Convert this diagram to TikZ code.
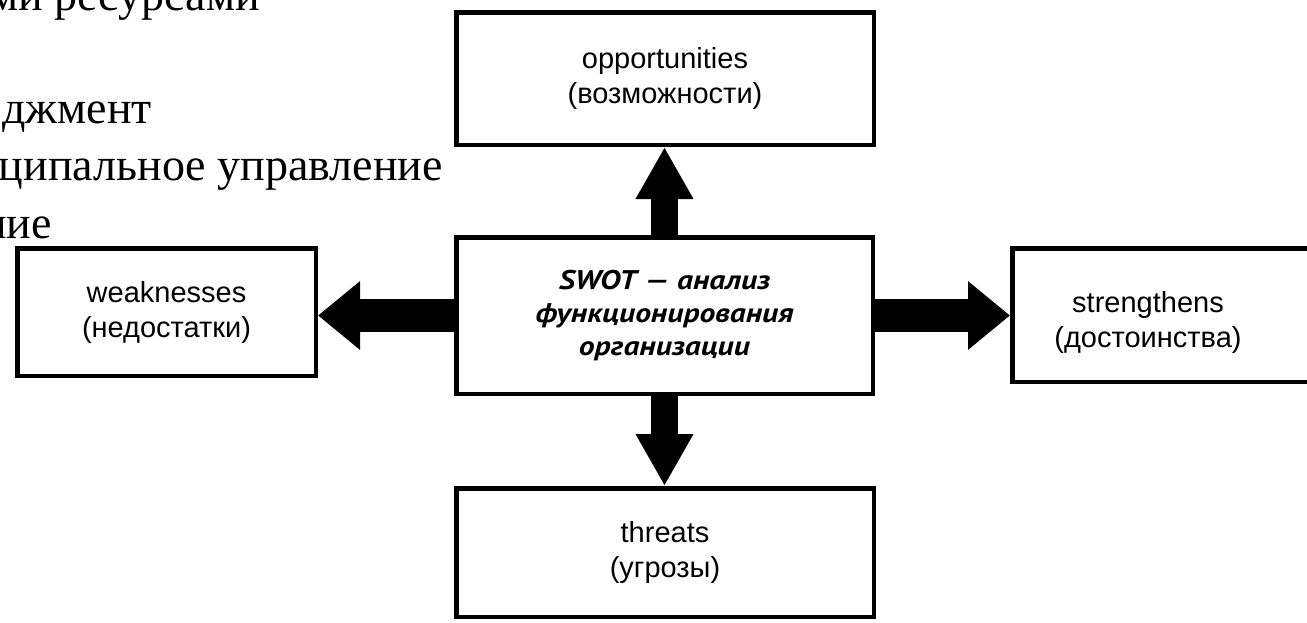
\documentclass[tikz,border=0pt]{standalone}
\usepackage{fontspec}
\setmainfont{Liberation Serif}
\newfontfamily\boxfont{Liberation Sans}
\newfontfamily\swotfont[FakeStretch=1.17]{PT Sans}
\usetikzlibrary{arrows.meta}
\newcommand\boxsize{\boxfont\fontsize{29}{35}\selectfont}
\newcommand\swotsize{\swotfont\bfseries\itshape\fontsize{27}{33}\selectfont}
\newcommand\bgsize{\fontsize{46}{57}\selectfont}
\begin{document}
\begin{tikzpicture}[x=1pt,y=-1pt,
  box/.style={draw, line width=4.5pt, inner sep=0pt, align=center, font=\boxsize},
  boxtext/.style={inner sep=0pt, align=center, font=\boxsize},
  bgtext/.style={inner sep=0pt, anchor=base east, font=\bgsize},
  varrow/.style={line width=27pt, -{Triangle[length=52pt,width=54pt]}},
  harrow/.style={line width=33pt, -{Triangle[length=42pt,width=66pt]}}]
\useasboundingbox (0,0) rectangle (1307,622);
\clip (0,0) rectangle (1307,622);
\fill[white] (0,0) rectangle (1307,622);
% background slide text (cut off)
\node[bgtext] (bg1) at (260,10) {ми ресурсами};
\node[bgtext] (bg2) at (152,123) {джмент};
\node[bgtext] (bg3) at (443,180) {ципальное управление};
\node[bgtext] (bg4) at (52,238) {ние};
% boxes
\node[box, minimum width=417.5pt, minimum height=132.5pt] (opp) at (665,78.5) {opportunities\\(возможности)};
\node[box, minimum width=416.5pt, minimum height=156.5pt, font=\swotsize] (swot) at (664.5,315.5) {SWOT — анализ\\функционирования\\организации};
\node[box, minimum width=417.5pt, minimum height=128.5pt] (thr) at (665,552.5) {threats\\(угрозы)};
\node[box, minimum width=298.5pt, minimum height=127.5pt] (weak) at (166.5,312) {weaknesses\\(недостатки)};
\node[box, minimum width=335.5pt, minimum height=133.5pt] (str) at (1180,315) {};
\node[boxtext] (strtext) at (1148,322) {strengthens\\(достоинства)};
% arrows
\draw[varrow] (swot.north) -- (swot.north |- opp.south);
\draw[varrow] (swot.south) -- (swot.south |- thr.north);
\draw[harrow] (swot.west) -- (swot.west -| weak.east);
\draw[harrow] (swot.east) -- (swot.east -| str.west);
\end{tikzpicture}
\end{document}
